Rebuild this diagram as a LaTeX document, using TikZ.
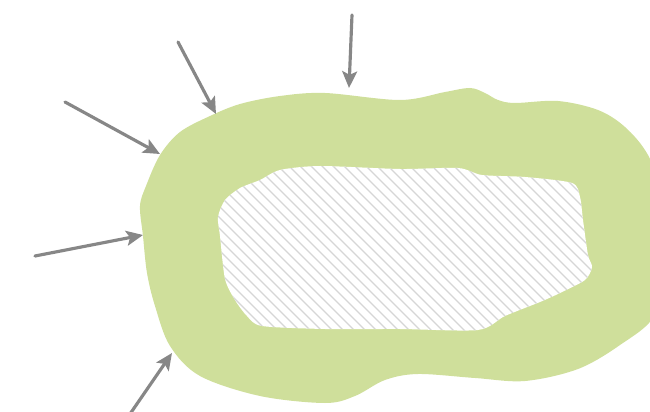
\documentclass[tikz,border=0pt]{standalone}
\usetikzlibrary{arrows.meta}
\definecolor{ringgreen}{HTML}{CFDF9B}
\definecolor{arrgray}{HTML}{878787}
\definecolor{hatchgray}{HTML}{D6D6D6}
\tikzset{
  ring/.style={fill=ringgreen,draw=none},
  hatchln/.style={draw=hatchgray,line width=0.75pt},
  arr/.style={-{Stealth[length=9.5pt,width=8.5pt,inset=2pt]},draw=arrgray,fill=arrgray,line width=1.8pt,line cap=round}
}
\begin{document}
\begin{tikzpicture}[x=0.02cm,y=-0.02cm]
  \clip (0,0) rectangle (650,412);

  % outer green blob
  \fill[ring] plot[smooth cycle,tension=0.55] coordinates {
    (140,206) (146,186) (160,155) (180,132) (210,116) (240,104) (280,96)
    (325,93) (400,100) (445,92) (470,88) (485,93) (498,100) (515,103)
    (558,101) (598,110) (625,127) (648,155) (665,200) (668,260) (655,315)
    (620,345) (578,369) (525,381) (475,378) (418,374) (385,380) (355,396)
    (325,403) (260,396) (200,376) (170,346) (155,306) (147,273) (143,236)};

  % hatched core
  \begin{scope}
    \clip plot[smooth cycle,tension=0.45] coordinates {
      (218,217) (225,200) (240,188) (260,180) (280,170) (320,166) (400,169)
      (458,168) (482,175) (525,177) (572,183) (580,197) (583,220) (588,255)
      (592,267) (585,280) (560,293) (540,302) (505,316) (478,330) (400,329)
      (325,329) (262,326) (247,316) (235,300) (225,279) (220,236)};
    \fill[white] (200,150) rectangle (610,345);
    \foreach \c in {20,31,...,630}
      \draw[hatchln] (\c,150) -- ({\c+200},350);
  \end{scope}

  % incoming arrows
  \coordinate (a1s) at (178,42);  \coordinate (a1e) at (216,114);
  \coordinate (a2s) at (65,102);  \coordinate (a2e) at (160,154);
  \coordinate (a3s) at (352,15);  \coordinate (a3e) at (349,88);
  \coordinate (a4s) at (35,256);  \coordinate (a4e) at (143,235);
  \coordinate (a5s) at (130,414); \coordinate (a5e) at (172,353);
  \foreach \i in {1,...,5}
    \draw[arr] (a\i s) -- (a\i e);
\end{tikzpicture}
\end{document}
